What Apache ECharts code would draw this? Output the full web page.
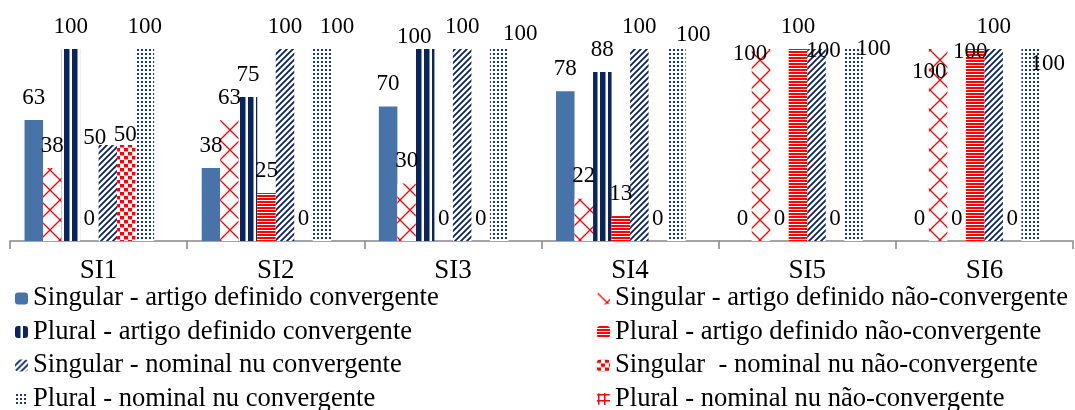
<!DOCTYPE html>
<html>
<head>
<meta charset="utf-8">
<script src="https://cdn.jsdelivr.net/npm/echarts@6/dist/echarts.min.js"></script>
<style>
html,body{margin:0;padding:0;background:#fff;}
#chart{width:1075px;height:410px;}
</style>
</head>
<body>
<div id="chart"></div>
<script>
// ---- data ----
var categories = ['SI1', 'SI2', 'SI3', 'SI4', 'SI5', 'SI6'];
var seriesNames = [
  'Singular - artigo definido convergente',
  'Singular - artigo definido não-convergente',
  'Plural - artigo definido convergente',
  'Plural - artigo definido não-convergente',
  'Singular - nominal nu convergente',
  'Singular  - nominal nu não-convergente',
  'Plural - nominal nu convergente',
  'Plural - nominal nu não-convergente'
];
var singArtConv    = [63, 38, 70, 78, 0, 0];
var singArtNaoConv = [38, 63, 30, 22, 100, 100];
var plurArtConv    = [100, 75, 100, 88, 0, 0];
var plurArtNaoConv = [0, 25, 0, 13, 100, 100];
var singNomConv    = [50, 100, 100, 100, 100, 100];
var singNomNaoConv = [50, 0, 0, 0, 0, 0];
var plurNomConv    = [100, 100, 100, 100, 100, 100];
var plurNomNaoConv = [null, null, null, null, null, null];

var seriesValues = [singArtConv, singArtNaoConv, plurArtConv, plurArtNaoConv,
                    singNomConv, singNomNaoConv, plurNomConv, plurNomNaoConv];

// ---- styling ----
var NAVY = '#0a2462';
var RED = '#ff0000';
function pattern(w, h, draw) {
  var c = document.createElement('canvas');
  c.width = w; c.height = h;
  var ctx = c.getContext('2d');
  ctx.fillStyle = '#ffffff';
  ctx.fillRect(0, 0, w, h);
  draw(ctx, w, h);
  return { image: c, repeat: 'repeat' };
}
var fills = [
  '#4873a8',
  pattern(20, 20, function (ctx, w, h) {
    ctx.strokeStyle = RED; ctx.lineWidth = 1.3;
    ctx.beginPath(); ctx.moveTo(0, 0); ctx.lineTo(w, h);
    ctx.moveTo(w, 0); ctx.lineTo(0, h); ctx.stroke();
  }),
  pattern(8, 4, function (ctx) {
    ctx.fillStyle = NAVY; ctx.fillRect(0, 0, 5.5, 4);
  }),
  pattern(4, 3, function (ctx) {
    ctx.fillStyle = RED; ctx.fillRect(0, 0, 4, 2);
  }),
  pattern(6, 6, function (ctx) {
    ctx.strokeStyle = NAVY; ctx.lineWidth = 1.8;
    ctx.beginPath();
    ctx.moveTo(-1, 7); ctx.lineTo(7, -1);
    ctx.moveTo(-1, 1); ctx.lineTo(1, -1);
    ctx.moveTo(5, 7); ctx.lineTo(7, 5);
    ctx.stroke();
  }),
  pattern(8, 8, function (ctx) {
    ctx.fillStyle = RED;
    ctx.fillRect(0, 0, 4, 3.5); ctx.fillRect(4, 4, 4, 3.5);
  }),
  pattern(4, 4, function (ctx) {
    ctx.fillStyle = '#1d3a78'; ctx.fillRect(1, 1, 2, 2);
  }),
  pattern(6, 6, function (ctx) {
    ctx.fillStyle = RED; ctx.fillRect(1, 0, 1.5, 6); ctx.fillRect(0, 1, 6, 1.5);
  })
];

// manually moved data labels in the original: [series, category] -> offset
var labelMoves = {
  '4,0': [-13, 15], '5,0': [-1, 12],
  '6,1': [15, 0],
  '2,2': [-11, 10], '6,2': [21, 7],
  '6,3': [17, 8],
  '1,4': [-11, 27], '4,4': [7, 24], '6,4': [20, 22],
  '1,5': [-9, 45], '3,5': [-5, 25], '6,5': [17, 37]
};

var FONT = 'Liberation Serif';

var series = seriesValues.map(function (vals, s) {
  return {
    name: seriesNames[s],
    type: 'bar',
    barGap: '0%',
    barCategoryGap: '16.4%',
    itemStyle: { color: fills[s] },
    label: {
      show: true, position: 'top', distance: 11,
      color: '#000', fontFamily: FONT, fontSize: 23
    },
    emphasis: { disabled: true },
    data: vals.map(function (v, c) {
      var m = labelMoves[s + ',' + c];
      return m ? { value: v, label: { offset: m } } : v;
    })
  };
});

var legendCommon = {
  type: 'plain',
  orient: 'vertical',
  top: 285,
  height: 200,
  itemWidth: 13,
  itemHeight: 12,
  itemGap: 6.5,
  padding: 0,
  selectedMode: false,
  textStyle: { fontFamily: FONT, fontSize: 26.6, color: '#000', lineHeight: 26 }
};

var chart = echarts.init(document.getElementById('chart'), null, { renderer: 'canvas' });
chart.setOption({
  animation: false,
  backgroundColor: '#fff',
  grid: { left: 10, right: 2, top: 49, bottom: 169, containLabel: false },
  xAxis: {
    type: 'category',
    data: categories,
    axisLine: { lineStyle: { color: '#868686', width: 1.5 } },
    axisTick: { show: true, length: 8, lineStyle: { color: '#868686', width: 1.5 } },
    axisLabel: { color: '#000', fontFamily: FONT, fontSize: 27, margin: 16 }
  },
  yAxis: { type: 'value', min: 0, max: 100, show: false, splitLine: { show: false } },
  legend: [
    Object.assign({}, legendCommon, { left: 15, data: [seriesNames[0], seriesNames[2], seriesNames[4], seriesNames[6]] }),
    Object.assign({}, legendCommon, { left: 597, data: [seriesNames[1], seriesNames[3], seriesNames[5], seriesNames[7]] })
  ],
  series: series
});
</script>
</body>
</html>
